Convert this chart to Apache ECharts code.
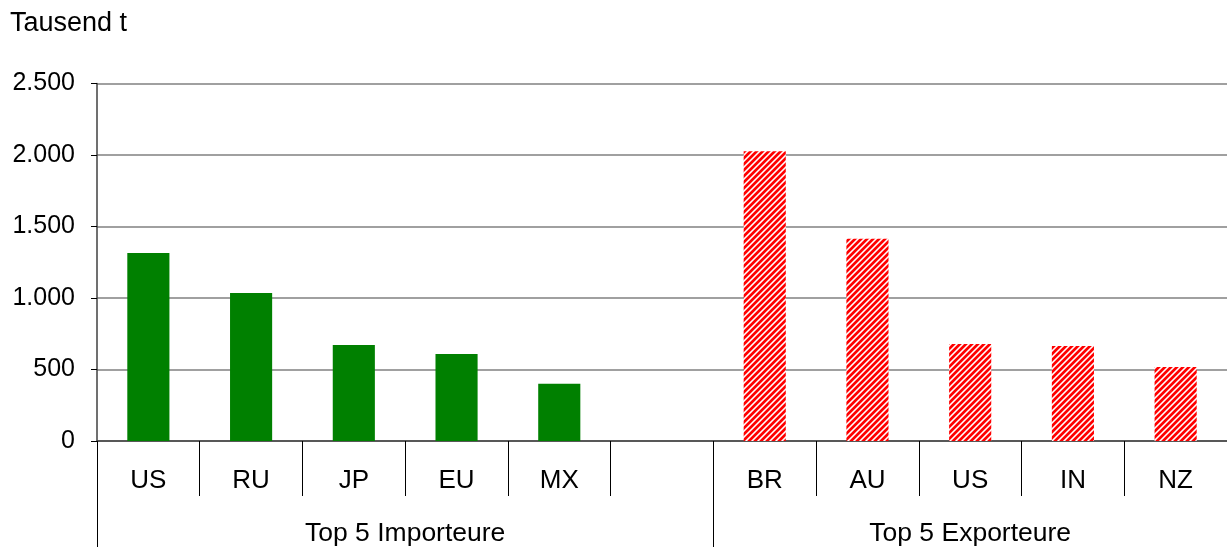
<!DOCTYPE html>
<html>
<head>
<meta charset="utf-8">
<script src="https://cdn.jsdelivr.net/npm/echarts@6/dist/echarts.min.js"></script>
<style>
html,body{margin:0;padding:0;background:#fff;}
#c{width:1227px;height:547px;}
</style>
</head>
<body>
<div id="c"></div>
<script>
// ---- data ----
const categories = ['US', 'RU', 'JP', 'EU', 'MX', '', 'BR', 'AU', 'US', 'IN', 'NZ'];
const importValues = [1315, 1035, 671, 608, 400];
const exportValues = [2027, 1415, 678, 664, 518];
const groupLabels = ['Top 5 Importeure', 'Top 5 Exporteure'];
const groupLabelPositions = [3, 8.5];
const groupBoundaries = [0, 6];
const yTicks = [0, 500, 1000, 1500, 2000, 2500];
const unitLabel = 'Tausend t';

const FONT = '"Liberation Sans", Arial, sans-serif';

// hatched pattern
function makeHatch() {
  const P = 6;
  const c = document.createElement('canvas');
  c.width = P; c.height = P;
  const ctx = c.getContext('2d');
  const img = ctx.createImageData(P, P);
  for (let y = 0; y < P; y++) {
    for (let x = 0; x < P; x++) {
      const k = (x + y) % P;
      const i = (y * P + x) * 4;
      let g = 255;
      if (k <= 2) g = 0;
      else if (k === 3 || k === 5) g = 150;
      img.data[i] = 255; img.data[i+1] = g; img.data[i+2] = g; img.data[i+3] = 255;
    }
  }
  ctx.putImageData(img, 0, 0);
  return c;
}
const hatch = { image: makeHatch(), repeat: 'repeat' };

const barData = [];
importValues.forEach(v => barData.push({ value: v, itemStyle: { color: '#008000' } }));
barData.push('-');
exportValues.forEach(v => barData.push({ value: v, itemStyle: { color: hatch } }));

function fmt(v) {
  return String(v).replace(/\B(?=(\d{3})+(?!\d))/g, '.');
}

const chart = echarts.init(document.getElementById('c'), null, { renderer: 'canvas' });
chart.setOption({
  animation: false,
  backgroundColor: '#fff',
  textStyle: { fontFamily: FONT },
  title: {
    text: unitLabel,
    left: 10, top: 10, padding: 0,
    textStyle: { fontFamily: FONT, fontSize: 27, fontWeight: 'normal', color: '#000' }
  },
  grid: { left: 97, right: 0, top: 83.5, bottom: 104.5, containLabel: false },
  xAxis: [
    {
      type: 'category',
      data: categories,
      position: 'bottom',
      axisLine: { show: true, lineStyle: { color: '#404040', width: 1.5 } },
      axisTick: { show: true, interval: 0, alignWithLabel: false, length: 55, lineStyle: { color: '#000', width: 1 } },
      axisLabel: { interval: 0, margin: 27, fontSize: 26, color: '#000', fontFamily: FONT },
      splitLine: { show: false }
    },
    {
      type: 'value',
      min: 0, max: 11,
      position: 'bottom',
      axisLine: { show: false },
      axisTick: { show: true, customValues: groupBoundaries, length: 106, lineStyle: { color: '#000', width: 1 } },
      axisLabel: {
        customValues: groupLabelPositions,
        margin: 79, fontSize: 26.5, color: '#000', fontFamily: FONT,
        formatter: v => groupLabels[groupLabelPositions.indexOf(v)] || ''
      },
      splitLine: { show: false }
    }
  ],
  yAxis: {
    type: 'value',
    min: yTicks[0], max: yTicks[yTicks.length - 1], interval: 500,
    axisLine: { show: true, lineStyle: { color: '#404040', width: 1.5 } },
    axisTick: { show: true, length: 6, lineStyle: { color: '#000', width: 1 } },
    axisLabel: { margin: 22, fontSize: 25, color: '#000', fontFamily: FONT, formatter: v => fmt(v) },
    splitLine: { show: true, lineStyle: { color: '#808080', width: 1.5 } }
  },
  series: [{
    type: 'bar',
    xAxisIndex: 0,
    data: barData,
    barWidth: '41%'
  }]
});
</script>
</body>
</html>
